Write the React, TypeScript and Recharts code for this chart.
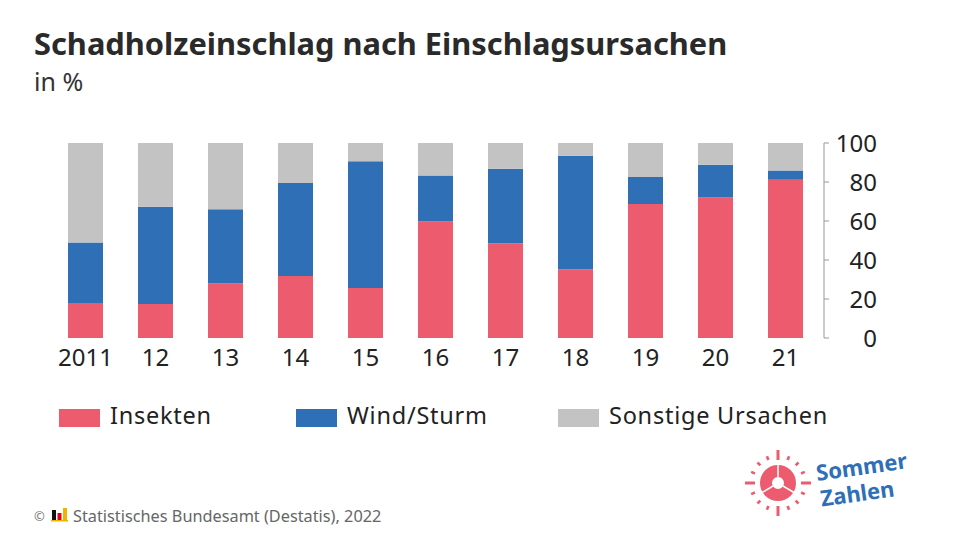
import React from "react";
import { BarChart, Bar, XAxis, YAxis } from "recharts";

const years = ["2011", "12", "13", "14", "15", "16", "17", "18", "19", "20", "21"];
const insekten = [18, 17.5, 28, 31.8, 25.6, 59.8, 48.6, 35.2, 68.7, 72.0, 81.2];
const wind = [31, 49.8, 38, 47.7, 65.1, 23.5, 38.2, 58.2, 13.9, 16.8, 4.7];
const sonstige = [51, 32.7, 34, 20.5, 9.3, 16.7, 13.2, 6.6, 17.4, 11.2, 14.1];
const yTicks = [0, 20, 40, 60, 80, 100];

const series = [
  { key: "insekten", name: "Insekten", color: "#ec5b6e" },
  { key: "wind", name: "Wind/Sturm", color: "#2f6fb6" },
  { key: "sonstige", name: "Sonstige Ursachen", color: "#c3c3c3" },
];

const data = years.map((y, i) => ({
  year: y,
  insekten: insekten[i],
  wind: wind[i],
  sonstige: sonstige[i],
}));

const FONT = "'Noto Sans', 'Open Sans', sans-serif";

const YTick = (props: any) => {
  const { x, y, payload } = props;
  return (
    <text x={x + 46} y={y} dy="0.36em" textAnchor="end" fontSize={24} fill="#222" fontFamily={FONT}>
      {payload.value}
    </text>
  );
};

const legendX = [59, 296, 558];

function Sun() {
  const cx = 778;
  const cy = 483;
  const rays = [];
  for (let i = 0; i < 16; i++) {
    const a = (i * Math.PI * 2) / 16;
    const cardinal = i % 4 === 0;
    const r1 = cardinal ? 23 : 25;
    const r2 = cardinal ? 33 : 29;
    rays.push(
      <line
        key={i}
        x1={cx + r1 * Math.cos(a)}
        y1={cy + r1 * Math.sin(a)}
        x2={cx + r2 * Math.cos(a)}
        y2={cy + r2 * Math.sin(a)}
        stroke="#ec5b6e"
        strokeWidth={cardinal ? 3 : 2.6}
        strokeLinecap="butt"
      />
    );
  }
  return (
    <g>
      {rays}
      <circle cx={cx} cy={cy} r={12} fill="none" stroke="#ec5b6e" strokeWidth={12} />
      <line x1={cx} y1={cy - 6} x2={cx} y2={cy - 19} stroke="#fff" strokeWidth={1.5} />
      <line x1={cx - 5} y1={cy + 3} x2={cx - 16} y2={cy + 9.5} stroke="#fff" strokeWidth={1.5} />
      <line x1={cx + 5} y1={cy + 3} x2={cx + 16} y2={cy + 9.5} stroke="#fff" strokeWidth={1.5} />
    </g>
  );
}

export default function App() {
  return (
    <div style={{ position: "relative", width: 960, height: 540, background: "#fff", fontFamily: FONT, overflow: "hidden" }}>
      <style>{`body{margin:0}`}</style>
      <svg width={960} height={540} style={{ position: "absolute", left: 0, top: 0 }}>
        <text x={34} y={55} fontSize={30.8} fontWeight={700} fill="#2a2a2a" fontFamily={FONT}>
          Schadholzeinschlag nach Einschlagsursachen
        </text>
        <text x={34} y={91} fontSize={25} fill="#333" fontFamily={FONT}>
          in %
        </text>
        {series.map((s, i) => (
          <g key={s.key}>
            <rect x={legendX[i]} y={409} width={41} height={18} fill={s.color} />
            <text x={legendX[i] + 51} y={424} fontSize={23.5} letterSpacing={0.75} fill="#222" fontFamily={FONT}>
              {s.name}
            </text>
          </g>
        ))}
        <text x={34} y={521} fontSize={13} fill="#777" fontFamily={FONT}>©</text>
        <rect x={52} y={510} width={4} height={10} fill="#111" />
        <rect x={57.5} y={513} width={4} height={7} fill="#e3001b" />
        <rect x={63} y={508} width={4} height={12} fill="#f0b400" />
        <rect x={51} y={520} width={17} height={1.5} fill="#f0b400" />
        <text x={73} y={522} fontSize={16.3} fill="#666" fontFamily={FONT}>
          Statistisches Bundesamt (Destatis), 2022
        </text>
        <Sun />
        <g transform="rotate(-8 817 480)" fill="#2f6fb6" fontFamily={FONT} fontWeight={700} fontSize={22}>
          <text x={817} y={481}>Sommer</text>
          <text x={818} y={507}>Zahlen</text>
        </g>
      </svg>
      <div style={{ position: "absolute", left: 0, top: 0 }}>
        <BarChart
          width={960}
          height={540}
          data={data}
          margin={{ top: 143, right: 76, bottom: 172, left: 50.5 }}
          barCategoryGap="25%"
        >
          <XAxis
            dataKey="year"
            interval={0}
            tickLine={false}
            axisLine={false}
            tickSize={0}
            tickMargin={11}
            height={30}
            padding={{ left: 0, right: 3.5 }}
            tick={{ fontSize: 24, fill: "#222", fontFamily: FONT }}
          />
          <YAxis
            orientation="right"
            domain={[0, 100]}
            ticks={yTicks}
            width={60}
            tickSize={5}
            tickMargin={2}
            axisLine={{ stroke: "#999" }}
            tickLine={{ stroke: "#999" }}
            tick={<YTick />}
          />
          {series.map((s) => (
            <Bar key={s.key} dataKey={s.key} name={s.name} stackId="a" fill={s.color} isAnimationActive={false} />
          ))}
        </BarChart>
      </div>
    </div>
  );
}
